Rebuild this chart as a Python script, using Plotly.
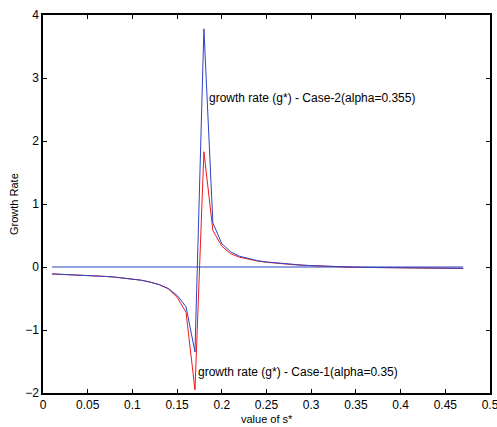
import plotly.graph_objects as go

s_values = [round(0.01 * i, 2) for i in range(1, 48)]

case2_growth = [
    -0.11, -0.115, -0.12, -0.125, -0.13, -0.14, -0.15, -0.16, -0.175, -0.19,
    -0.21, -0.24, -0.28, -0.34, -0.45, -0.63, -1.35, 3.78, 0.70, 0.37,
    0.24, 0.17, 0.13, 0.10, 0.08, 0.065, 0.05, 0.04, 0.03, 0.022,
    0.015, 0.01, 0.005, 0.0, -0.003, -0.006, -0.008, -0.01, -0.012, -0.013,
    -0.014, -0.015, -0.016, -0.017, -0.018, -0.019, -0.02,
]
case1_growth = [
    -0.11, -0.115, -0.12, -0.125, -0.13, -0.14, -0.15, -0.16, -0.175, -0.19,
    -0.21, -0.24, -0.28, -0.345, -0.48, -0.72, -1.95, 1.83, 0.58, 0.33,
    0.21, 0.155, 0.12, 0.095, 0.075, 0.06, 0.047, 0.037, 0.028, 0.02,
    0.013, 0.008, 0.003, -0.002, -0.005, -0.008, -0.01, -0.012, -0.014, -0.015,
    -0.016, -0.018, -0.019, -0.02, -0.021, -0.022, -0.024,
]
zero_line = [0.0 for _ in s_values]

x_ticks = [0, 0.05, 0.1, 0.15, 0.2, 0.25, 0.3, 0.35, 0.4, 0.45, 0.5]
x_ticktext = ["0", "0.05", "0.1", "0.15", "0.2", "0.25", "0.3", "0.35", "0.4", "0.45", "0.5"]
y_ticks = [-2, -1, 0, 1, 2, 3, 4]
y_ticktext = ["\u22122", "\u22121", "0", "1", "2", "3", "4"]

label_case2 = "growth rate (g*) - Case-2(alpha=0.355)"
label_case1 = "growth rate (g*) - Case-1(alpha=0.35)"
x_title = "value of s*"
y_title = "Growth Rate"

BLUE = "#2a44c4"
RED = "#f01818"
FONT = "Liberation Sans, Arial, sans-serif"

fig = go.Figure()
fig.add_trace(go.Scatter(x=s_values, y=zero_line, mode="lines",
                         line=dict(color=BLUE, width=1), showlegend=False))
fig.add_trace(go.Scatter(x=s_values, y=case1_growth, mode="lines",
                         line=dict(color=RED, width=1), showlegend=False))
fig.add_trace(go.Scatter(x=s_values, y=case2_growth, mode="lines",
                         line=dict(color=BLUE, width=1), showlegend=False))

fig.add_annotation(x=0.1857, y=2.69, text=label_case2, showarrow=False,
                   xanchor="left", yanchor="middle", xshift=-2,
                   font=dict(family=FONT, size=12, color="black"))
fig.add_annotation(x=0.173, y=-1.66, text=label_case1, showarrow=False,
                   xanchor="left", yanchor="middle", xshift=-2,
                   font=dict(family=FONT, size=12, color="black"))

# axis titles placed as paper annotations
fig.add_annotation(x=0.5, y=0, xref="paper", yref="paper", yshift=-26,
                   text=x_title, showarrow=False, xanchor="center", yanchor="middle",
                   font=dict(family=FONT, size=11, color="black"))
fig.add_annotation(x=0, y=0.5, xref="paper", yref="paper", xshift=-29,
                   text=y_title, showarrow=False, xanchor="center", yanchor="middle",
                   textangle=-90, font=dict(family=FONT, size=11, color="black"))

axis_common = dict(showgrid=False, zeroline=False, showline=True, linecolor="black",
                   linewidth=1.5, mirror="ticks", ticks="inside", ticklen=4,
                   tickcolor="black", tickwidth=1, automargin=False,
                   ticklabeloverflow="allow",
                   tickfont=dict(family=FONT, size=12, color="black"))

fig.update_xaxes(range=[0, 0.5], tickvals=x_ticks, ticktext=x_ticktext, **axis_common)
fig.update_yaxes(range=[-2, 4], tickvals=y_ticks, ticktext=y_ticktext, **axis_common)

fig.update_layout(width=497, height=427, plot_bgcolor="white", paper_bgcolor="white",
                  margin=dict(l=43, r=7, t=15, b=34))

fig.write_html("out.html", config={"displayModeBar": False},
               post_script="document.body.style.margin='0';document.body.style.overflow='hidden';")
